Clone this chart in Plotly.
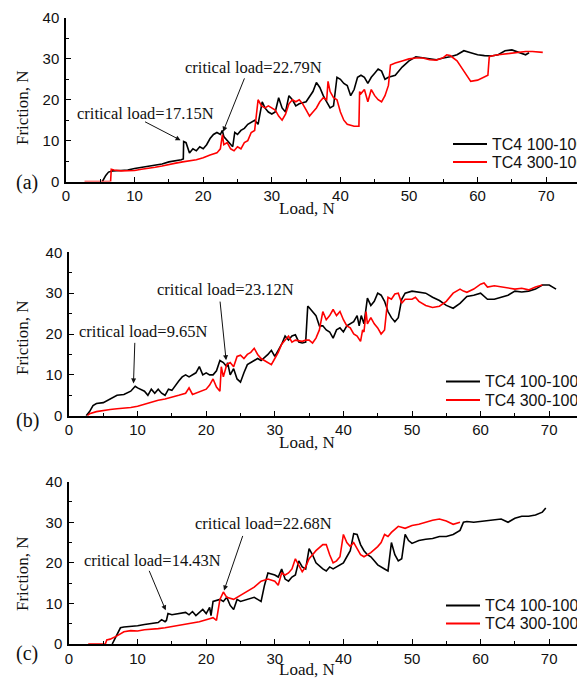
import plotly.graph_objects as go

# ---------------- data ----------------
# Panel (a)
a_black_load = [5.3, 5.8, 6.2, 6.8, 8, 9, 10, 11, 12, 13, 14, 15, 16, 16.8, 17.1, 17.15, 17.5, 18, 18.5, 19, 19.5, 20, 20.5, 21, 21.5, 22, 22.5, 22.79, 23, 23.5, 24, 24.3, 24.6, 25, 25.5, 26, 26.5, 27, 27.5, 28, 28.3, 28.6, 29, 29.5, 30, 30.5, 31, 31.5, 32, 32.5, 33, 33.5, 34, 35, 36, 36.5, 37, 37.5, 38, 38.5, 39, 39.5, 40, 40.5, 41, 41.5, 42, 42.5, 43, 43.5, 44, 44.5, 45, 45.5, 46, 46.5, 47, 48, 49, 50, 51, 52, 53, 54, 55, 56, 57, 58, 59, 60, 61, 62, 63, 64, 65, 66, 67, 67.5]
a_black_fric = [0, 1.5, 2.3, 2.6, 2.7, 2.8, 3.2, 3.5, 3.8, 4.1, 4.3, 4.8, 5.0, 5.3, 5.5, 9.8, 9.5, 7, 8, 7.5, 8.5, 8, 9, 10.5, 11.5, 12, 11.5, 12.5, 11, 10, 9, 8.5, 12, 11.5, 12.5, 13, 14, 14.5, 15, 14, 17, 19.5, 18, 17, 16.5, 17, 20.5, 18, 17, 21, 20, 18.5, 19, 19.5, 22, 24.2, 23, 21, 19.5, 18, 18.5, 25.5, 25, 24, 23.5, 21, 22.5, 25.5, 26, 25.5, 24, 25.5, 26.5, 27.5, 27, 25, 25.5, 26, 28, 29.5, 30.5, 30.3, 30, 29.8, 30.2, 30.5, 31, 32, 31.5, 31, 30.8, 30.7, 31, 32, 32.2, 31.5, 31, 31.5]
a_red_load = [2.7, 6.5, 6.6, 7, 8, 9, 10, 11, 12, 13, 14, 15, 16, 17, 18, 19, 20, 21, 22, 22.5, 22.8, 23, 23.5, 24, 24.5, 25, 25.5, 26, 26.5, 27, 27.5, 28, 28.5, 29, 29.5, 30, 30.5, 31, 31.5, 32, 32.5, 33, 33.5, 34, 34.5, 35, 35.5, 36, 36.5, 37, 37.5, 38, 38.2, 38.5, 39, 39.5, 40, 40.5, 41, 42, 42.7, 42.8, 43, 43.5, 44, 44.5, 45, 45.5, 46, 46.5, 47, 47.3, 48, 49, 50, 51, 52, 53, 54, 55, 55.5, 56, 57, 58, 59, 60, 61, 61.5, 61.7, 62, 63, 64, 65, 66, 67, 68, 69, 69.5]
a_red_fric = [0, 0, 3, 2.8, 2.6, 2.6, 2.7, 3, 3.2, 3.5, 3.8, 4.2, 4.5, 4.8, 5, 5.3, 5.8, 6.5, 7, 8, 11.5, 9, 9.5, 8, 7.5, 8.5, 8, 9.5, 10, 12, 12.5, 20, 18.5, 18, 18.5, 18, 17.5, 16, 15, 16.5, 19, 20, 19.5, 20, 19, 17.5, 16, 17, 18, 19.5, 20.5, 20, 24.5, 22, 20.5, 20, 17, 15, 14, 13.5, 13.5, 22, 21.5, 22.5, 19.5, 22.5, 21, 20, 19.5, 21, 23.5, 28.5, 29, 29.5, 30, 30.2, 30.2, 29.8, 29.7, 30.3, 31, 30.8, 29.5, 27, 24.5, 24.8, 25.5, 26, 30.5, 30.7, 31, 31.2, 31.3, 31.5, 31.8, 31.8, 31.7, 31.6]

# Panel (b)
b_black_load = [2.5, 3, 3.5, 4, 5, 6, 7, 8, 9, 9.65, 10, 11, 11.5, 12, 12.5, 13, 13.5, 14, 14.5, 15, 15.5, 16, 16.5, 17, 17.5, 18, 18.5, 19, 19.5, 20, 20.5, 21, 21.5, 22, 22.5, 23, 23.12, 23.5, 24, 24.5, 25, 25.5, 26, 27, 27.5, 28, 29, 29.5, 30, 30.5, 31, 31.5, 32, 32.5, 33, 33.5, 34, 34.5, 34.8, 35, 35.5, 36, 36.5, 37, 37.5, 38, 38.5, 39, 39.5, 40, 40.5, 41, 41.5, 42, 42.3, 42.6, 43, 43.5, 44, 44.5, 45, 45.5, 46, 46.5, 47, 47.5, 48, 48.5, 49, 50, 51, 52, 53, 54, 55, 56, 57, 58, 59, 60, 61, 62, 63, 64, 65, 66, 67, 68, 69, 70, 71]
b_black_fric = [0, 1, 2.5, 3, 3.2, 4, 5, 5.2, 6, 7.2, 6.8, 6, 5, 6.5, 5.5, 6.5, 5.5, 5, 6.5, 6.2, 7.5, 8.5, 9.5, 10, 9.5, 10, 10.5, 12, 10, 10.5, 10, 10, 11, 13.5, 13, 12, 13, 10, 11.5, 9, 8.2, 10.5, 12.5, 13.5, 14, 13.5, 15, 16, 14.5, 16, 17.5, 19.5, 18.5, 19.5, 19.8, 18, 17.8, 18, 26.8, 26.5, 25.5, 24.5, 22, 22, 21, 20.5, 19, 21, 21.5, 20.5, 22, 22.5, 23, 24.5, 22, 24.5, 22.5, 28.8, 27, 28, 30, 29.5, 28, 25.5, 24, 23, 24, 28.5, 30, 30.5, 30.2, 30, 29, 28.2, 27, 26.3, 27.5, 29.2, 29.5, 30, 28.5, 28.5, 29, 29.5, 30.5, 30.3, 30.5, 31, 32, 32, 31]
b_red_load = [2.7, 3, 4, 5, 6, 7, 8, 9, 10, 11, 12, 13, 14, 15, 16, 17, 17.5, 18, 19, 20, 20.5, 21, 21.5, 22, 22.2, 22.5, 23, 23.5, 24, 24.5, 25, 25.5, 26, 26.5, 27, 27.5, 28, 29, 29.5, 30, 30.5, 31, 31.5, 32, 32.5, 33, 34, 34.5, 35, 35.5, 36, 36.5, 37, 37.5, 38, 38.5, 39, 39.5, 40, 40.5, 41, 41.5, 42, 42.5, 42.8, 43, 43.3, 43.5, 44, 44.5, 45, 45.5, 46, 46.3, 46.5, 47, 47.5, 48, 48.5, 49, 50, 50.5, 51, 52, 53, 54, 55, 56, 57, 57.5, 58, 59, 60, 60.5, 61, 62, 63, 64, 65, 66, 67, 68, 69]
b_red_fric = [0, 0.5, 1, 1.3, 1.5, 1.7, 1.8, 2, 2.3, 2.8, 3.3, 3.8, 4.1, 4.5, 5, 5.5, 6.8, 5.2, 5.8, 6.5, 7.5, 9, 7, 6, 12, 9.5, 12.5, 13, 12, 14.5, 14.8, 14, 15, 15.5, 16.5, 15, 14, 13, 12.5, 14, 15.5, 17.5, 18.5, 19.5, 18, 18.5, 18.2, 18.5, 18.5, 17.8, 19, 21, 25.5, 23.5, 24.5, 26, 24.5, 25.5, 23.5, 22, 21.5, 20, 19.5, 18.2, 21, 20.5, 25.5, 22.5, 24, 22.5, 21.5, 20, 21, 26.5, 29, 28.5, 29.8, 30, 27.5, 28.5, 28.5, 29, 28, 27, 26.5, 26.8, 28, 30, 31, 30.5, 30.2, 31, 32.2, 32.5, 31.5, 31.8, 31.5, 31.2, 31, 31.2, 30.8, 31.5, 32]

# Panel (c)
c_black_load = [6.3, 7, 7.5, 8, 9, 10, 11, 12, 13, 13.5, 14, 14.2, 14.43, 15, 16, 17, 17.5, 18, 18.5, 19, 19.5, 20, 20.5, 20.7, 21, 22, 22.5, 23, 23.5, 24, 24.5, 25, 26, 27, 27.5, 28, 28.5, 29, 30, 30.5, 31, 31.5, 32, 32.5, 33, 33.5, 34, 34.5, 35, 35.5, 36, 37, 37.5, 38, 38.5, 39, 40, 40.5, 41, 41.5, 42, 42.5, 43, 43.5, 44, 44.5, 45, 46, 46.5, 47, 47.5, 48, 48.5, 49, 49.5, 50, 51, 52, 53, 54, 55, 56, 57, 57.5, 58, 59, 60, 61, 62, 63, 64, 65, 66, 67, 68, 69, 69.5]
c_black_fric = [0, 2.5, 4, 4.2, 4.3, 4.5, 4.8, 5, 5.3, 6, 5.5, 5.8, 7.5, 7.2, 7.5, 7.8, 7.2, 8, 7, 7.8, 8.5, 7.5, 9, 7, 10.5, 11, 10.5, 11.5, 9.5, 8.5, 11, 10.5, 11, 11.5, 11, 10.5, 14.5, 17.5, 17, 16.5, 18.5, 16, 15.5, 16.5, 17, 20.5, 19, 18.5, 23.5, 22, 20, 18.5, 18, 19, 18.5, 19, 20, 21.5, 23, 27.2, 27, 24.5, 23, 22, 21.5, 20.5, 19.5, 18.5, 18, 25, 22, 20.5, 21, 27, 25.5, 24.8, 25.5, 25.8, 26, 26.5, 26.5, 27, 28, 30, 30.2, 30, 30.2, 30.5, 30.7, 30.8, 30, 31, 31.5, 31.5, 31.8, 32.5, 33.5]
c_red_load = [2.8, 5.3, 5.5, 6, 7, 8, 9, 10, 11, 12, 13, 14, 15, 16, 17, 18, 19, 20, 21, 21.5, 22, 22.5, 23, 24, 25, 26, 27, 28, 29, 30, 30.5, 31, 31.5, 32, 32.5, 33, 33.5, 34, 34.5, 35, 35.5, 36, 37, 37.5, 38, 38.5, 39, 39.5, 40, 40.5, 41, 41.5, 42, 42.5, 43, 43.5, 44, 45, 45.5, 46, 46.5, 47, 48, 49, 50, 51, 52, 53, 54, 55, 56, 57]
c_red_fric = [0, 0, 1, 1.2, 2, 3, 3.3, 3.2, 3.5, 3.6, 3.8, 4, 4.3, 4.6, 4.9, 5.2, 5.5, 6, 6.5, 5.8, 11, 12.8, 11.5, 11, 12, 13, 14, 15.5, 16, 15.5, 14.5, 17.5, 17, 17.5, 18.5, 21, 19.5, 17.8, 19, 21, 22, 23, 24.5, 24.5, 22, 20, 20.5, 21.5, 27, 25, 24, 25, 23.5, 22, 21.5, 22, 22.5, 24, 25, 27, 26.5, 27.5, 29, 28.5, 29.2, 29.5, 30, 30.5, 30.8, 30.3, 29.5, 30]

series_names = ["TC4 100-100", "TC4 300-100"]
x_ticks = [0, 10, 20, 30, 40, 50, 60, 70]
y_ticks = [0, 10, 20, 30, 40]
panel_labels = ["(a)", "(b)", "(c)"]
# critical-load notes: (arrow tip load, arrow tip friction, label)
crit = {
    "a": [(16.7, 10.1, "critical load=17.15N"), (22.9, 12.2, "critical load=22.79N")],
    "b": [(9.4, 7.9, "critical load=9.65N"), (22.9, 13.6, "critical load=23.12N")],
    "c": [(14.1, 8.3, "critical load=14.43N"), (22.6, 13.2, "critical load=22.68N")],
}

# ---------------- layout geometry (pixels) ----------------
W, H = 577, 678
PX_PER_UNIT = 6.86
panels = [
    dict(x0=66, yb=181.5, yt=18.0),
    dict(x0=69, yb=415.7, yt=252.3),
    dict(x0=69, yb=644.0, yt=481.7),
]

BLACK = "#000000"
RED = "#ff0000"
SERIF = "Liberation Serif, Times New Roman, serif"
SANS = "Liberation Sans, Arial, sans-serif"
COLORS = [BLACK, RED]

fig = go.Figure()
data_sets = [
    (a_black_load, a_black_fric, a_red_load, a_red_fric),
    (b_black_load, b_black_fric, b_red_load, b_red_fric),
    (c_black_load, c_black_fric, c_red_load, c_red_fric),
]
for i, (bx, by, rx, ry) in enumerate(data_sets):
    xa = "x" if i == 0 else f"x{i+1}"
    ya = "y" if i == 0 else f"y{i+1}"
    fig.add_trace(go.Scatter(x=bx, y=by, mode="lines", name=series_names[0],
                             line=dict(color=BLACK, width=1.6), xaxis=xa, yaxis=ya))
    fig.add_trace(go.Scatter(x=rx, y=ry, mode="lines", name=series_names[1],
                             line=dict(color=RED, width=1.6), xaxis=xa, yaxis=ya))

layout = dict(
    width=W, height=H,
    margin=dict(l=0, r=0, t=0, b=0, autoexpand=False),
    paper_bgcolor="white", plot_bgcolor="white",
    showlegend=False,
)

for i, p in enumerate(panels):
    sfx = "" if i == 0 else str(i + 1)
    xmax = (W - p["x0"]) / PX_PER_UNIT
    layout["xaxis" + sfx] = dict(
        domain=[p["x0"] / W, 1.0], range=[0, xmax], anchor="y" + sfx,
        showgrid=False, zeroline=False, showline=True, linecolor=BLACK, linewidth=1.5,
        ticks="inside", ticklen=5, tickwidth=1.2, tickcolor=BLACK,
        tickvals=x_ticks, ticktext=[str(v) for v in x_ticks],
        tickfont=dict(family=SANS, size=15, color="#111"),
        minor=dict(dtick=5, tick0=0, ticks="inside", ticklen=3, tickwidth=1, tickcolor=BLACK),
    )
    layout["yaxis" + sfx] = dict(
        domain=[(H - p["yb"]) / H, (H - p["yt"]) / H], range=[0, 40], anchor="x" + sfx,
        showgrid=False, zeroline=False, showline=True, linecolor=BLACK, linewidth=1.5,
        ticks="inside", ticklen=5, tickwidth=1.2, tickcolor=BLACK,
        tickvals=y_ticks, ticktext=[str(v) for v in y_ticks],
        tickfont=dict(family=SANS, size=15, color="#111"),
        minor=dict(dtick=5, tick0=0, ticks="inside", ticklen=3, tickwidth=1, tickcolor=BLACK),
        ticklabelstandoff=2,
    )

fig.update_layout(**layout)

annotations = []
shapes = []
ytitle_centers = [108, 338, 574]
xtitle_centers = [208, 443, 669]
label_y = [183, 420, 653]
for i in range(3):
    annotations.append(dict(text="Friction, N", x=22 / W, y=(H - ytitle_centers[i]) / H,
                            xref="paper", yref="paper", showarrow=False, textangle=-90,
                            font=dict(family=SERIF, size=17, color="#111"),
                            xanchor="center", yanchor="middle"))
    annotations.append(dict(text="Load, N", x=307 / W, y=(H - xtitle_centers[i]) / H,
                            xref="paper", yref="paper", showarrow=False,
                            font=dict(family=SERIF, size=17, color="#111"),
                            xanchor="center", yanchor="middle"))
    annotations.append(dict(text=panel_labels[i], x=27 / W, y=(H - label_y[i]) / H,
                            xref="paper", yref="paper", showarrow=False,
                            font=dict(family=SERIF, size=20, color="#111"),
                            xanchor="center", yanchor="middle"))

# legends (line sample + label), pixel positions
legend_rows = [(453, [144, 162]), (446, [381.5, 400]), (446, [605.5, 623.5])]
for lx, rows in legend_rows:
    for k, ry in enumerate(rows):
        yp = (H - ry) / H
        shapes.append(dict(type="line", xref="paper", yref="paper",
                           x0=lx / W, x1=(lx + 34) / W, y0=yp, y1=yp,
                           line=dict(color=COLORS[k], width=1.8)))
        annotations.append(dict(text=series_names[k], x=(lx + 37) / W, y=yp,
                                xref="paper", yref="paper", showarrow=False,
                                xanchor="left", yanchor="middle",
                                font=dict(family=SANS, size=16, color="#111")))

# critical-load notes: text centre and arrow tail in data coords
text_pos = {
    "a": [(11.6, 16.7, 11.3, 14.8), (27.3, 27.9, 26.1, 25.6)],
    "b": [(10.8, 20.6, 9.6, 18.2), (22.8, 30.8, 22.0, 28.3)],
    "c": [(12.2, 20.7, 11.6, 18.4), (28.4, 29.7, 25.4, 27.0)],
}
for i, key in enumerate(["a", "b", "c"]):
    sfx = "" if i == 0 else str(i + 1)
    for (cx, cy, label), (tx, ty, ax_, ay_) in zip(crit[key], text_pos[key]):
        annotations.append(dict(text=label, x=tx, y=ty, xref="x" + sfx, yref="y" + sfx,
                                showarrow=False, font=dict(family=SERIF, size=16.5, color="#111"),
                                xanchor="center", yanchor="middle"))
        annotations.append(dict(text="", x=cx, y=cy, ax=ax_, ay=ay_,
                                xref="x" + sfx, yref="y" + sfx, axref="x" + sfx, ayref="y" + sfx,
                                showarrow=True, arrowhead=2, arrowsize=1, arrowwidth=1,
                                arrowcolor="#111"))

fig.update_layout(annotations=annotations, shapes=shapes)
fig.write_html("out.html", config={"displayModeBar": False},
               post_script="document.body.style.margin='0';document.body.style.overflow='hidden';")
